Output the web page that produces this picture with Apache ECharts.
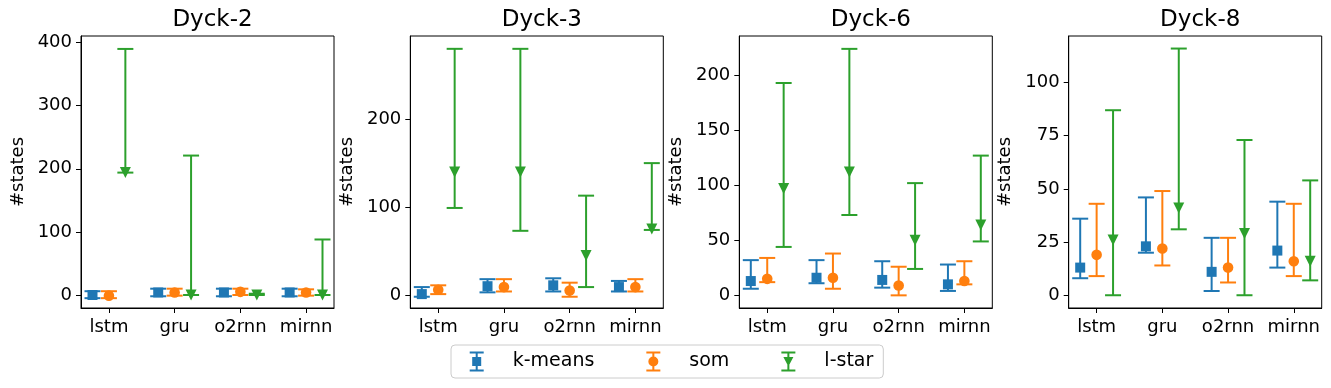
<!DOCTYPE html>
<html>
<head>
<meta charset="utf-8">
<script src="https://cdn.jsdelivr.net/npm/echarts@6/dist/echarts.min.js"></script>
<style>html,body{margin:0;padding:0;background:#fff}#c{width:1331px;height:388px}</style>
</head>
<body>
<div id="c"></div>
<script>
// ---------- data ----------
const categories = ['lstm', 'gru', 'o2rnn', 'mirnn'];
const panelTitles = ['Dyck-2', 'Dyck-3', 'Dyck-6', 'Dyck-8'];
const seriesNames = ['k-means', 'som', 'l-star'];
// each entry: [mean, lower, upper] per category
const dyck2KMeans = [[0, -5, 6], [4, -2, 10], [4, -2, 10], [4, -2, 10]];
const dyck2Som    = [[-1, -5, 6], [4, -1, 10], [5, 0, 10], [4, -1, 9]];
const dyck2LStar  = [[194, 194, 390], [0, 0, 221], [0, 0, 2], [0, 0, 88]];
const dyck3KMeans = [[1, -2, 9], [10, 3, 18], [11, 4, 19], [9, 4, 16]];
const dyck3Som    = [[6, 1, 11], [9, 4, 18], [5, -2, 14], [9, 4, 18]];
const dyck3LStar  = [[140, 99, 280], [140, 73, 280], [45, 9, 113], [75, 74, 150]];
const dyck6KMeans = [[13, 6, 32], [16, 11, 32], [14, 7, 31], [10, 4, 28]];
const dyck6Som    = [[15, 12, 34], [16, 6, 38], [9, 0, 26], [13, 10, 31]];
const dyck6LStar  = [[97, 44, 193], [112, 73, 224], [50, 24, 102], [64, 49, 127]];
const dyck8KMeans = [[13, 8, 36], [23, 20, 46], [11, 2, 27], [21, 13, 44]];
const dyck8Som    = [[19, 9, 43], [22, 14, 49], [13, 6, 27], [16, 9, 43]];
const dyck8LStar  = [[26, 0, 87], [41, 31, 116], [29, 0, 73], [16, 7, 54]];
const yTicksDyck2 = [0, 100, 200, 300, 400];
const yTicksDyck3 = [0, 100, 200];
const yTicksDyck6 = [0, 50, 100, 150, 200];
const yTicksDyck8 = [0, 25, 50, 75, 100];

// ---------- layout / style ----------
const panelData = [
  [dyck2KMeans, dyck2Som, dyck2LStar],
  [dyck3KMeans, dyck3Som, dyck3LStar],
  [dyck6KMeans, dyck6Som, dyck6LStar],
  [dyck8KMeans, dyck8Som, dyck8LStar]
];
const panelTicks = [yTicksDyck2, yTicksDyck3, yTicksDyck6, yTicksDyck8];
const yRanges = [[-20.6, 410.5], [-14.8, 294.6], [-11.5, 235.7], [-6, 121.9]];
const gridLefts = [81, 410.3, 739.3, 1068.7];
const gridW = 253, gridTop = 36, gridH = 272;
const colors = ['#1f77b4', '#ff7f0e', '#2ca02c'];
const offsets = [-0.25, 0, 0.25];
const markerKinds = ['square', 'circle', 'triangleDown'];
const FONT = 'DejaVu Sans';

const legendIcons = [
  'path://M0 0h14v2h-14zM6 0h2v20h-2zM0 18h14v2h-14zM2.5 5.5h9v9h-9z',
  'path://M0 0h14v2h-14zM6 0h2v20h-2zM0 18h14v2h-14zM2 10A5 5 0 1 1 12 10A5 5 0 1 1 2 10z',
  'path://M0 0h14v2h-14zM6 0h2v20h-2zM0 18h14v2h-14zM2 5.5L12 5.5L7 15z'
];

function renderErrorBar(params, api) {
  const x = api.value(0), m = api.value(1), lo = api.value(2), hi = api.value(3);
  const pm = api.coord([x, m]), pl = api.coord([x, lo]), ph = api.coord([x, hi]);
  const color = api.visual('color');
  const kind = markerKinds[seriesNames.indexOf(params.seriesName)];
  const ls = { stroke: color, lineWidth: 2 };
  const cap = 8;
  const children = [
    { type: 'line', shape: { x1: pl[0], y1: pl[1], x2: ph[0], y2: ph[1] }, style: ls },
    { type: 'line', shape: { x1: ph[0] - cap, y1: ph[1], x2: ph[0] + cap, y2: ph[1] }, style: ls },
    { type: 'line', shape: { x1: pl[0] - cap, y1: pl[1], x2: pl[0] + cap, y2: pl[1] }, style: ls }
  ];
  if (kind === 'square') {
    children.push({ type: 'rect', shape: { x: pm[0] - 5, y: pm[1] - 5, width: 10, height: 10 }, style: { fill: color } });
  } else if (kind === 'circle') {
    children.push({ type: 'circle', shape: { cx: pm[0], cy: pm[1], r: 5.3 }, style: { fill: color } });
  } else {
    children.push({ type: 'polygon', shape: { points: [[pm[0] - 5.5, pm[1] - 5.5], [pm[0] + 5.5, pm[1] - 5.5], [pm[0], pm[1] + 5.5]] }, style: { fill: color } });
  }
  return { type: 'group', children };
}

const titles = [], grids = [], xAxes = [], yAxes = [], series = [];
panelTitles.forEach((t, p) => {
  titles.push({
    text: t, left: gridLefts[p] + gridW / 2, top: 4, textAlign: 'center',
    textStyle: { fontFamily: FONT, fontSize: 23, fontWeight: 'normal', color: '#000' }
  });
  grids.push({ left: gridLefts[p], top: gridTop, width: gridW, height: gridH, show: true, borderColor: '#000', borderWidth: 1, backgroundColor: 'transparent' });
  xAxes.push({
    type: 'value', gridIndex: p, min: -0.425, max: 3.425,
    axisLine: { show: true, onZero: false, lineStyle: { color: '#000', width: 1 } },
    axisTick: { show: true, length: 5, lineStyle: { color: '#000' }, customValues: [0, 1, 2, 3] },
    axisLabel: { customValues: [0, 1, 2, 3], formatter: v => categories[Math.round(v)], fontFamily: FONT, fontSize: 18, color: '#000', margin: 10 },
    splitLine: { show: false }
  });
  yAxes.push({
    type: 'value', gridIndex: p, min: yRanges[p][0], max: yRanges[p][1],
    name: '#states', nameLocation: 'middle', nameGap: 54,
    nameTextStyle: { fontFamily: FONT, fontSize: 18, color: '#000' },
    axisLine: { show: true, onZero: false, lineStyle: { color: '#000', width: 1 } },
    axisTick: { show: true, length: 5, lineStyle: { color: '#000' }, customValues: panelTicks[p] },
    axisLabel: { customValues: panelTicks[p], fontFamily: FONT, fontSize: 18, color: '#000', margin: 9 },
    splitLine: { show: false }
  });
  panelData[p].forEach((arr, s) => {
    series.push({
      type: 'custom', name: seriesNames[s], xAxisIndex: p, yAxisIndex: p,
      itemStyle: { color: colors[s] },
      renderItem: renderErrorBar,
      encode: { x: 0, y: [1, 2, 3] },
      data: arr.map((d, i) => [i + offsets[s], d[0], d[1], d[2]])
    });
  });
});

const option = {
  animation: false,
  backgroundColor: '#fff',
  textStyle: { fontFamily: FONT },
  title: titles,
  legend: {
    left: 451, top: 345,
    padding: [6.5, 10, 6.5, 18.7],
    borderColor: '#cccccc', borderWidth: 1, borderRadius: 4,
    itemWidth: 14, itemHeight: 20, itemGap: 52,
    data: seriesNames.map((n, i) => ({ name: n, icon: legendIcons[i] })),
    formatter: '{t|{name}}',
    textStyle: { fontFamily: FONT, fontSize: 19, color: '#000',
      rich: { t: { fontFamily: FONT, fontSize: 19, color: '#000', padding: [0, 0, 0, 24] } } }
  },
  grid: grids,
  xAxis: xAxes,
  yAxis: yAxes,
  series: series
};
const chart = echarts.init(document.getElementById('c'), null, { renderer: 'canvas' });
chart.setOption(option);
</script>
</body>
</html>
